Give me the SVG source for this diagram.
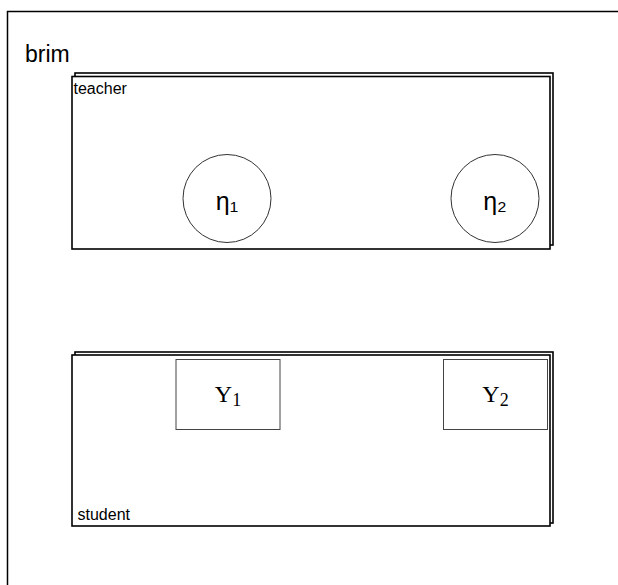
<svg xmlns="http://www.w3.org/2000/svg" width="618" height="585" viewBox="0 0 618 585">
<style>
.plate{fill:#fff;stroke:#000;stroke-width:1.6}
.back{fill:#fff;stroke:#000;stroke-width:1.6}
.lbl{font-family:"Liberation Sans",Arial,sans-serif;fill:#000}
.circ{fill:#fff;stroke:#333;stroke-width:1}
.box{fill:#fff;stroke:#444;stroke-width:1}
.math{font-family:"Liberation Serif","Times New Roman",serif;fill:#000}
</style>
<rect width="618" height="585" fill="#fff"/>
<g id="brim">
<rect x="7.5" y="11.5" width="640" height="600" fill="none" stroke="#000" stroke-width="1.5"/>
<text class="lbl" x="25" y="62" font-size="23">brim</text>
</g>
<g id="teacher">
<rect class="back" x="75" y="73" width="478" height="172"/>
<rect class="plate" x="72" y="76.5" width="478" height="172.5"/>
<text class="lbl" x="73.5" y="94" font-size="16">teacher</text>
</g>
<g id="eta1">
<circle class="circ" cx="227" cy="198.5" r="44"/>
<text class="lbl" x="227" y="210" font-size="25" text-anchor="middle">η₁</text>
</g>
<g id="eta2">
<circle class="circ" cx="495" cy="198.5" r="44"/>
<text class="lbl" x="495" y="210" font-size="25" text-anchor="middle">η₂</text>
</g>
<g id="student">
<rect class="back" x="75" y="352" width="478" height="171"/>
<rect class="plate" x="72" y="355" width="478" height="171"/>
<text class="lbl" x="77.5" y="520" font-size="16">student</text>
</g>
<g id="Y1">
<rect class="box" x="176" y="359.5" width="104" height="70"/>
<text class="math" x="228" y="402" font-size="24" text-anchor="middle">Y<tspan font-size="18" dy="4">1</tspan></text>
</g>
<g id="Y2">
<rect class="box" x="443.5" y="359.5" width="104" height="70"/>
<text class="math" x="495.5" y="402" font-size="24" text-anchor="middle">Y<tspan font-size="18" dy="4">2</tspan></text>
</g>
<g id="connectors"></g>
</svg>
